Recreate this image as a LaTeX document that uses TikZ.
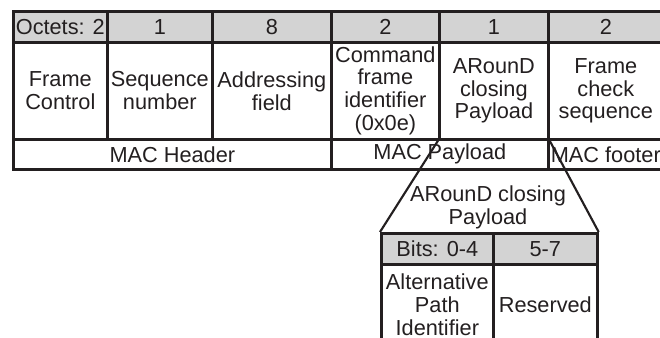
\documentclass[tikz,border=0pt]{standalone}
\usepackage{fontspec}
\setmainfont{Liberation Sans}
\definecolor{hdrgray}{RGB}{211,211,211}
\definecolor{ink}{RGB}{35,31,32}
\begin{document}
\begin{tikzpicture}[x=0.75pt,y=-0.75pt,
  cell/.style={draw=ink, line width=2pt, inner sep=0pt, anchor=north west,
    align=center, text=ink, font=\fontsize{16.3}{17.2}\selectfont},
  hdr/.style={cell, fill=hdrgray},
  link/.style={draw=ink, line width=1.6pt}]
\useasboundingbox (0,0) rectangle (660,338);
\clip (0,0) rectangle (660,338);
% header row
\node[hdr, minimum width=70.5pt, minimum height=23.25pt] (h1) at (12,10) {Octets: 2};
\node[hdr, minimum width=78.75pt, minimum height=23.25pt] (h2) at (106,10) {1};
\node[hdr, minimum width=89.25pt, minimum height=23.25pt] (h3) at (211,10) {8};
\node[hdr, minimum width=81pt, minimum height=23.25pt] (h4) at (330,10) {2};
\node[hdr, minimum width=81.75pt, minimum height=23.25pt] (h5) at (438,10) {1};
\node[hdr, minimum width=86.25pt, minimum height=23.25pt] (h6) at (547,10) {2};
% body row
\node[cell, minimum width=70.5pt, minimum height=72.75pt] (b1) at (12,41) {Frame\\Control};
\node[cell, minimum width=78.75pt, minimum height=72.75pt] (b2) at (106,41) {Sequence\\number};
\node[cell, minimum width=89.25pt, minimum height=72.75pt] (b3) at (211,41) {Addressing\\field};
\node[cell, minimum width=81pt, minimum height=72.75pt] (b4) at (330,41) {Command\\frame\\identifier\\(0x0e)};
\node[cell, minimum width=81.75pt, minimum height=72.75pt] (b5) at (438,41) {ARounD\\closing\\Payload};
\node[cell, minimum width=86.25pt, minimum height=72.75pt] (b6) at (547,41) {Frame\\check\\sequence};
% bottom row
\node[cell, minimum width=238.5pt, minimum height=22.5pt] (mh) at (12,138) {MAC Header};
\node[cell, minimum width=162.75pt, minimum height=22.5pt] (mp) at (330,138) {MAC Payload};
\node[cell, minimum width=86.25pt, minimum height=22.5pt] (mf) at (547,138) {MAC footer};
% sub table
\node[hdr, minimum width=84pt, minimum height=23.25pt] (s1) at (380,232) {Bits: 0-4};
\node[hdr, minimum width=78pt, minimum height=23.25pt] (s2) at (492,232) {5-7};
\node[cell, minimum width=84pt, minimum height=60pt] (t1) at (380,263) {Alternative\\Path\\Identifier};
\node[cell, minimum width=78pt, minimum height=60pt] (t2) at (492,263) {Reserved};
\node[align=center, text=ink, font=\fontsize{16.3}{17.2}\selectfont] (st) at (488,207) {ARounD closing\\Payload};
% expansion lines
\draw[link] (b5.south west) -- (s1.north west);
\draw[link] (b5.south east) -- (s2.north east);
\end{tikzpicture}
\end{document}
